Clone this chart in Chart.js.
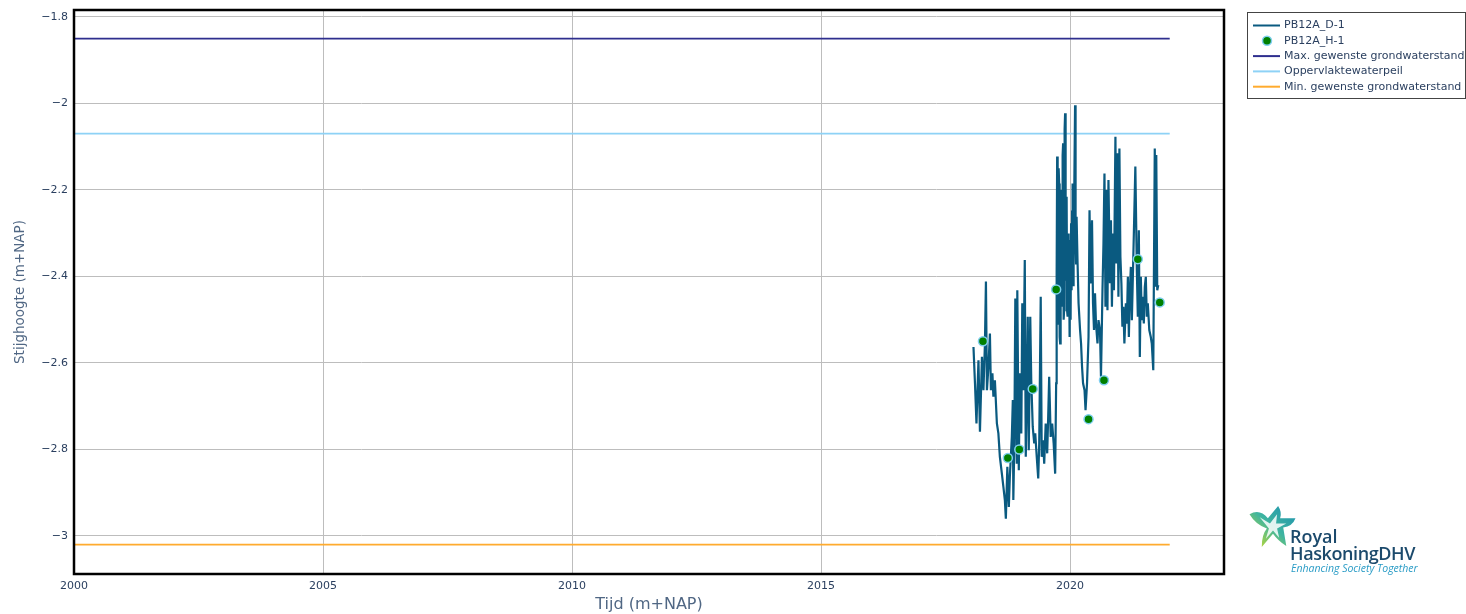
<!DOCTYPE html>
<html>
<head>
<meta charset="utf-8">
<script src="https://cdn.jsdelivr.net/npm/chart.js@4.4.0/dist/chart.umd.min.js"></script>
<style>
  body { margin: 0; background: #fff; }
  #wrap { position: relative; width: 1466px; height: 614px; }
  #logo { position: absolute; left: 1247px; top: 504px; width: 200px; height: 75px; font-family: "Open Sans", "DejaVu Sans", sans-serif; }
  #logo svg { position: absolute; left: 0; top: 0; }
  #logo .l1 { position: absolute; left: 43px; top: 23px; font-size: 18px; font-weight: 600; color: #1c4a6c; line-height: 18px; }
  #logo .l2 { position: absolute; left: 43px; top: 40px; font-size: 18px; font-weight: 600; color: #1c4a6c; line-height: 18px; letter-spacing: -0.4px; }
  #logo .l3 { position: absolute; left: 44px; top: 58px; font-size: 10.5px; font-style: italic; color: #2a9cc6; line-height: 12px; }
</style>
</head>
<body>
<div id="wrap">
  <canvas id="chart" width="1466" height="614"></canvas>
  <div id="logo">
    <svg width="52" height="46" viewBox="0 0 50 45">
      <defs>
        <linearGradient id="g" x1="1" y1="0" x2="0" y2="1">
          <stop offset="0" stop-color="#1b8fb0"/>
          <stop offset="0.5" stop-color="#3fb5a0"/>
          <stop offset="1" stop-color="#d2de1e"/>
        </linearGradient>
      </defs>
      <path d="M2 10 Q12 4 20 14 L30 2 Q34 8 32 14 L47 14 Q44 22 35 23 L38 41 Q30 36 25 29 L14 42 Q14 30 19 24 Q8 20 2 10 Z" fill="url(#g)"/>
      <path d="M12 13 L22 19 L29 10 L28 19 L38 19 L29 24 L31 33 L25 26 L18 34 L21 24 Z" fill="#fff" opacity="0.85"/>
    </svg>
    <div class="l1">Royal</div>
    <div class="l2">HaskoningDHV</div>
    <div class="l3">Enhancing Society Together</div>
  </div>
</div>
<script>
// PB12A_D-1 (logger), decimal years and stijghoogte
const dYears = [
  2018.06, 2018.09, 2018.12, 2018.16, 2018.19, 2018.23, 2018.26, 2018.29, 2018.31, 2018.33,
  2018.36, 2018.39, 2018.41, 2018.44, 2018.46, 2018.49, 2018.53, 2018.56, 2018.59, 2018.63,
  2018.66, 2018.69, 2018.71, 2018.74, 2018.77, 2018.79, 2018.83, 2018.85, 2018.86, 2018.88,
  2018.90, 2018.93, 2018.94, 2018.97, 2018.99, 2019.02, 2019.04, 2019.06, 2019.09, 2019.11,
  2019.13, 2019.15, 2019.17, 2019.20, 2019.22, 2019.25, 2019.28, 2019.30, 2019.33, 2019.36,
  2019.38, 2019.41, 2019.43, 2019.46, 2019.48, 2019.51, 2019.54, 2019.56, 2019.58, 2019.61,
  2019.64, 2019.67, 2019.70, 2019.72, 2019.73, 2019.74, 2019.75, 2019.76, 2019.77, 2019.78,
  2019.79, 2019.80, 2019.81, 2019.82, 2019.83, 2019.84, 2019.85, 2019.86, 2019.87, 2019.88,
  2019.89, 2019.90, 2019.91, 2019.92, 2019.93, 2019.94, 2019.95, 2019.96, 2019.97, 2019.98,
  2019.99, 2020.00, 2020.01, 2020.02, 2020.03, 2020.04, 2020.05, 2020.06, 2020.07, 2020.09,
  2020.10, 2020.11, 2020.12, 2020.13, 2020.15, 2020.17, 2020.20,
  2020.22, 2020.24, 2020.26, 2020.29, 2020.31, 2020.34, 2020.37, 2020.39, 2020.41, 2020.44,
  2020.46, 2020.48, 2020.50, 2020.52, 2020.55, 2020.57, 2020.60, 2020.62, 2020.65, 2020.67,
  2020.69, 2020.71, 2020.73, 2020.75, 2020.77, 2020.80, 2020.82, 2020.84, 2020.86, 2020.88,
  2020.91, 2020.93, 2020.95, 2020.97, 2020.99, 2021.01, 2021.03, 2021.05, 2021.07, 2021.09,
  2021.12, 2021.14, 2021.16, 2021.18, 2021.20, 2021.22, 2021.24, 2021.26, 2021.28, 2021.31,
  2021.34, 2021.36, 2021.38, 2021.40, 2021.42, 2021.44, 2021.46, 2021.48, 2021.50, 2021.52,
  2021.54, 2021.56, 2021.59, 2021.62, 2021.64, 2021.67, 2021.70, 2021.72, 2021.73, 2021.75,
  2021.77, 2021.79, 2021.81
];
const dValues = [
  -2.563, -2.647, -2.740, -2.594, -2.759, -2.586, -2.663, -2.555, -2.412, -2.663,
  -2.609, -2.532, -2.663, -2.624, -2.678, -2.640, -2.740, -2.763, -2.817, -2.856,
  -2.886, -2.917, -2.960, -2.840, -2.933, -2.863, -2.771, -2.686, -2.917, -2.786,
  -2.451, -2.833, -2.432, -2.848, -2.624, -2.763, -2.462, -2.663, -2.362, -2.817,
  -2.678, -2.493, -2.802, -2.493, -2.640, -2.748, -2.786, -2.763, -2.817, -2.867,
  -2.786, -2.447, -2.817, -2.779, -2.833, -2.740, -2.809, -2.725, -2.632, -2.771,
  -2.740, -2.786, -2.856, -2.647, -2.393, -2.123, -2.460, -2.509, -2.150, -2.185,
  -2.540, -2.555, -2.250, -2.200, -2.470, -2.462, -2.120, -2.092, -2.500, -2.478,
  -2.060, -2.023, -2.410, -2.355, -2.216, -2.480, -2.493, -2.301, -2.470, -2.393,
  -2.540, -2.316, -2.500, -2.277, -2.432, -2.250, -2.185, -2.420, -2.378, -2.123,
  -2.004, -2.300, -2.370, -2.262, -2.370, -2.462, -2.524,
  -2.555, -2.609, -2.647, -2.663, -2.709, -2.647, -2.540, -2.247,
  -2.416, -2.270, -2.462, -2.524, -2.439, -2.509, -2.555, -2.501, -2.524, -2.632,
  -2.432, -2.324, -2.162, -2.470, -2.200, -2.478, -2.177, -2.416, -2.270, -2.470,
  -2.301, -2.432, -2.077, -2.370, -2.115, -2.447, -2.104, -2.355, -2.416, -2.516,
  -2.470, -2.555, -2.462, -2.509, -2.401, -2.540, -2.432, -2.378, -2.501, -2.401,
  -2.301, -2.146, -2.385, -2.493, -2.293, -2.586, -2.401, -2.501, -2.447, -2.509,
  -2.424, -2.401, -2.493, -2.462, -2.524, -2.540, -2.555, -2.617, -2.104, -2.424,
  -2.119, -2.432, -2.420
];

// PB12A_H-1 (handmetingen)
const hYears = [2018.25, 2018.75, 2018.98, 2019.25, 2019.72, 2020.37, 2020.68, 2021.36, 2021.80];
const hValues = [-2.55, -2.82, -2.80, -2.66, -2.43, -2.73, -2.64, -2.36, -2.46];

// referentielijnen
const refYears = [2000, 2022];
const maxLevel = -1.85;
const surfaceLevel = -2.07;
const minLevel = -3.02;

const xTicks = [2000, 2005, 2010, 2015, 2020];
const yTicks = [-3, -2.8, -2.6, -2.4, -2.2, -2, -1.8];

const labels = ['PB12A_D-1', 'PB12A_H-1', 'Max. gewenste grondwaterstand', 'Oppervlaktewaterpeil', 'Min. gewenste grondwaterstand'];
const colors = ['#0a5a80', '#008000', '#2e2e8e', '#8ed2f6', '#ffab2e'];

const textColor = '#2a3f5f';
const titleColor = '#506784';

function pts(xs, ys) { return xs.map((x, i) => ({x: x, y: ys[i]})); }
function flat(v) { return refYears.map(x => ({x: x, y: v})); }

function fmt(v) {
  var n = parseFloat(v.toFixed(1));
  return (n < 0 ? '\u2212' : '') + Math.abs(n);
}

const frame = {
  id: 'frame',
  afterDatasetsDraw(chart) {
    const a = chart.chartArea, ctx = chart.ctx;
    ctx.save();
    ctx.strokeStyle = '#000';
    ctx.lineWidth = 2.5;
    ctx.strokeRect(a.left, a.top, a.right - a.left, a.bottom - a.top);
    ctx.restore();
  }
};

const legendBox = {
  id: 'legendBox',
  afterDraw(chart) {
    const ctx = chart.ctx;
    const x0 = 1247, y0 = 12, w = 218, h = 86;
    ctx.save();
    ctx.fillStyle = '#fff';
    ctx.fillRect(x0, y0, w, h);
    ctx.strokeStyle = '#444';
    ctx.lineWidth = 1;
    ctx.strokeRect(x0 + 0.5, y0 + 0.5, w, h);
    ctx.font = '11px "DejaVu Sans"';
    ctx.textBaseline = 'middle';
    labels.forEach((lab, i) => {
      const y = y0 + 13.5 + i * 15.3;
      if (i === 1) {
        ctx.beginPath();
        ctx.arc(x0 + 20, y, 4.5, 0, Math.PI * 2);
        ctx.fillStyle = colors[1];
        ctx.fill();
        ctx.strokeStyle = '#7fcff0';
        ctx.lineWidth = 1.5;
        ctx.stroke();
      } else {
        ctx.beginPath();
        ctx.moveTo(x0 + 6, y);
        ctx.lineTo(x0 + 33, y);
        ctx.strokeStyle = colors[i];
        ctx.lineWidth = 2;
        ctx.stroke();
      }
      ctx.fillStyle = textColor;
      ctx.fillText(lab, x0 + 37, y);
    });
    ctx.restore();
  }
};

new Chart(document.getElementById('chart'), {
  type: 'line',
  data: {
    datasets: [
      { label: labels[0], data: pts(dYears, dValues), borderColor: colors[0], borderWidth: 2.2, pointRadius: 0, tension: 0, order: 1 },
      { label: labels[1], data: pts(hYears, hValues), showLine: false, pointRadius: 4.5, pointBackgroundColor: colors[1], pointBorderColor: '#7fcff0', pointBorderWidth: 1.5, order: 0 },
      { label: labels[2], data: flat(maxLevel), borderColor: colors[2], borderWidth: 1.8, pointRadius: 0, order: 2 },
      { label: labels[3], data: flat(surfaceLevel), borderColor: colors[3], borderWidth: 1.8, pointRadius: 0, order: 2 },
      { label: labels[4], data: flat(minLevel), borderColor: colors[4], borderWidth: 1.8, pointRadius: 0, order: 2 }
    ]
  },
  options: {
    responsive: false,
    animation: false,
    layout: { padding: { top: 10, right: 242, left: 0, bottom: 0 } },
    plugins: { legend: { display: false }, tooltip: { enabled: false } },
    scales: {
      x: {
        type: 'linear',
        min: 2000,
        max: 2023.09,
        afterBuildTicks: s => { s.ticks = xTicks.map(v => ({value: v})); },
        afterFit: s => { s.height = 40; s.paddingLeft = 0; s.paddingRight = 0; },
        grid: { color: '#bdbdbd', lineWidth: 1, drawTicks: false },
        border: { display: false },
        ticks: { padding: 6, color: textColor, font: { family: 'DejaVu Sans', size: 11 }, callback: v => String(v), maxRotation: 0 },
        title: { display: true, text: 'Tijd (m+NAP)', color: titleColor, font: { family: 'DejaVu Sans', size: 16 }, padding: { top: 0, bottom: 0 } }
      },
      y: {
        min: -3.088,
        max: -1.784,
        afterBuildTicks: s => { s.ticks = yTicks.map(v => ({value: v})); },
        afterFit: s => { s.width = 74; s.paddingTop = 0; s.paddingBottom = 0; },
        grid: { color: '#bdbdbd', lineWidth: 1, drawTicks: false },
        border: { display: false },
        ticks: { padding: 6, color: textColor, font: { family: 'DejaVu Sans', size: 11 }, callback: v => fmt(v) },
        title: { display: true, text: 'Stijghoogte (m+NAP)', color: titleColor, font: { family: 'DejaVu Sans', size: 13.5 }, padding: { top: 12, bottom: 4 } }
      }
    }
  },
  plugins: [frame, legendBox]
});
</script>
</body>
</html>
